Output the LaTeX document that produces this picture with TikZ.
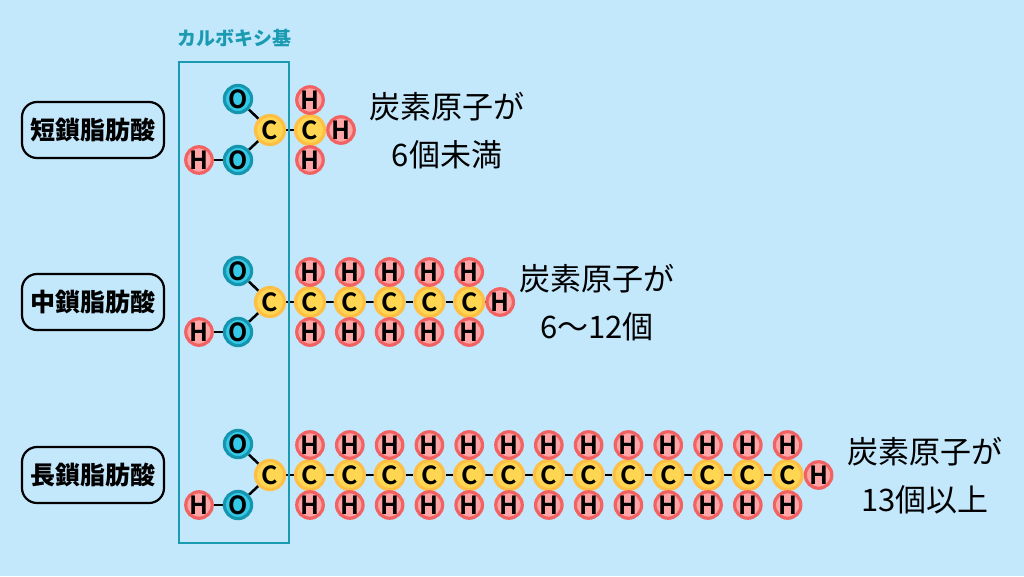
\documentclass[tikz,border=0pt]{standalone}
\usepackage{fontspec}
\newfontfamily\jp{Noto Sans CJK JP}
\usetikzlibrary{backgrounds, calc}
\definecolor{bg}{HTML}{C3E7FB}
\definecolor{teal}{HTML}{1A9BB2}
\definecolor{hred}{HTML}{F26262}
\definecolor{hpink}{HTML}{FFA5A5}
\definecolor{cborder}{HTML}{FFBF45}
\definecolor{cfill}{HTML}{FFD652}
\definecolor{oborder}{HTML}{1596AE}
\definecolor{ofill}{HTML}{35C9E8}
\newcommand\atomfont{\fontspec{Noto Sans CJK JP Bold}\fontsize{25pt}{25pt}\selectfont}
\tikzset{
	ball/.style={draw, circle, line width=3.2pt, inner sep=0pt, font=\atomfont},
	hball/.style={ball, minimum size=26pt, draw=hred, fill=hpink},
	cball/.style={ball, minimum size=29pt, draw=cborder, fill=cfill},
	oball/.style={ball, minimum size=27pt, draw=oborder, fill=ofill},
	bond/.style={line width=2.5pt, black},
	namebox/.style={draw, rounded corners=15pt, line width=2.2pt, minimum width=142pt, minimum height=56pt, font=\jp\bfseries\fontsize{25}{25}\selectfont},
	countlabel/.style={align=center, font=\jp\fontsize{31}{48}\selectfont}
}
\begin{document}
\begin{tikzpicture}[x=1pt, y=-1pt]
	\begin{scope}[on background layer]
		\fill[bg] (0, 0) rectangle (1024, 576);
	\end{scope}

	\foreach \r/\y/\n/\lbl/\tx/\txt in {1/130/1/短鎖脂肪酸/447/{炭素原子が\\6個未満}, 2/302/5/中鎖脂肪酸/597/{炭素原子が\\6～12個}, 3/475/13/長鎖脂肪酸/925/{炭素原子が\\13個以上}} {
		\node[namebox] (name\r) at (93, \y) {\lbl};
		\node[countlabel] (count\r) at (\tx, \y+1) {\txt};

		% carboxyl
		\node[cball] (c\r-0) at (270, \y) {C};
		\node[oball] (oa\r) at (238, \y-31) {O};
		\node[oball] (ob\r) at (238, \y+30) {O};
		\node[hball] (ho\r) at (199, \y+30) {H};
		\begin{scope}[on background layer]
			\draw[bond] (c\r-0) -- (oa\r);
			\draw[bond] (c\r-0) -- (ob\r);
			\draw[bond] (ob\r) -- (ho\r);
		\end{scope}

		% chain
		\foreach \i [remember=\i as \p (initially 0)] in {1,...,\n} {
			\node[cball] (c\r-\i) at (310+\i*39.8-39.8, \y) {C};
			\node[hball] (hu\r-\i) at (310+\i*39.8-39.8, \y-30) {H};
			\node[hball] (hd\r-\i) at (310+\i*39.8-39.8, \y+30) {H};
			\begin{scope}[on background layer]
				\draw[bond] (c\r-\p) -- (c\r-\i);
			\end{scope}
		}
		\node[hball] (he\r) at ($(c\r-\n)+(31, 0)$) {H};
		\begin{scope}[on background layer]
			\draw[bond] (c\r-\n) -- (he\r);
		\end{scope}
	}

	\draw[teal, line width=2.5pt] (179, 62) rectangle (289, 543);
	\node[teal, font=\jp\bfseries\fontsize{19}{19}\selectfont] (grp) at (234, 38) {カルボキシ基};
\end{tikzpicture}
\end{document}
